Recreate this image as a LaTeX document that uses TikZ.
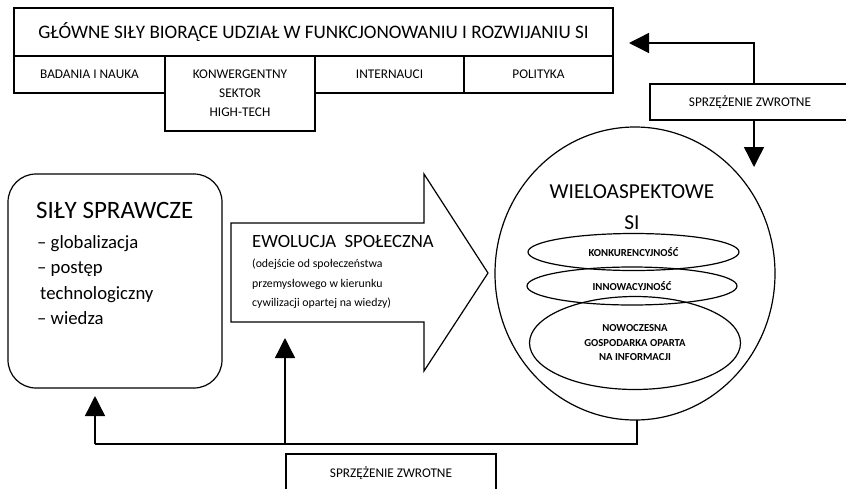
\documentclass[tikz,border=0pt]{standalone}
\usepackage{fontspec}
\setmainfont{Carlito}
\usetikzlibrary{arrows.meta,shapes.geometric,positioning,calc}

\tikzset{
  cell/.style={draw, line width=1.2pt, inner sep=0pt, outer sep=0pt, align=center,
    font=\fontsize{13.3}{19}\selectfont},
  fbbox/.style={draw, line width=1.2pt, inner sep=0pt, outer sep=0pt,
    font=\fontsize{13.3}{16}\selectfont},
  oval/.style={draw, ellipse, line width=1.2pt, inner sep=0pt, align=center,
    font=\fontsize{10.7}{14.5}\selectfont\bfseries},
  txt/.style={inner sep=0pt, align=left},
  fbline/.style={line width=1.4pt, -{Triangle[length=20pt,width=20pt]}}
}

\begin{document}
\begin{tikzpicture}[x=1pt,y=-1pt]
  \clip (0,0) rectangle (846,488);
  \fill[white] (0,0) rectangle (846,488);

  \node[cell, minimum width=599pt, minimum height=48pt, font=\fontsize{19.1}{22}\selectfont] (glowne) at (313.5,32)
    {GŁÓWNE SIŁY BIORĄCE UDZIAŁ W FUNKCJONOWANIU I ROZWIJANIU SI};
  \node[cell, minimum width=151pt, minimum height=37pt, anchor=north west] (badania) at (glowne.south west) {BADANIA I NAUKA};
  \node[cell, minimum width=150pt, minimum height=75pt, anchor=north west] (konw) at (badania.north east) {KONWERGENTNY\\SEKTOR\\HIGH-TECH};
  \node[cell, minimum width=149pt, minimum height=37pt, anchor=north west] (internauci) at (konw.north east) {INTERNAUCI};
  \node[cell, minimum width=149pt, minimum height=37pt, anchor=north west] (polityka) at (internauci.north east) {POLITYKA};

  \node[fbbox, minimum width=200pt, minimum height=36pt] (fbgora) at (750,102) {SPRZĘŻENIE ZWROTNE};
  \node[fbbox, minimum width=210pt, minimum height=38pt] (fbdol) at (391,473) {SPRZĘŻENIE ZWROTNE};

  % sily sprawcze
  \node[draw, rounded corners=28pt, line width=1.2pt, inner sep=0pt, outer sep=0pt,
    minimum width=214pt, minimum height=214pt] (sprawcze) at (115,281) {};
  \node[txt, anchor=west, font=\fontsize{25}{28}\selectfont] (sprawTytul) at (36,210) {SIŁY SPRAWCZE};
  \node[txt, anchor=west, font=\fontsize{18.7}{25.3}\selectfont] (sprawLista) at (37,280)
    {– globalizacja\\– postęp\\\hspace*{3pt}technologiczny\\– wiedza};

  % ewolucja
  \coordinate (ewDol) at (285,322);
  \draw[line width=1.2pt] (231,223) -- (424,223) -- (424,174) -- (488,273) -- (424,371) -- (424,322) -- (231,322) -- cycle;
  \node[txt, anchor=west, font=\fontsize{18.7}{22}\selectfont] (ewTytul) at (252,241) {EWOLUCJA\ \ SPOŁECZNA};
  \node[txt, anchor=west, font=\fontsize{11.8}{19.5}\selectfont] (ewOpis) at (252,284)
    {(odejście od społeczeństwa\\przemysłowego w kierunku\\cywilizacji opartej na wiedzy)};

  % si
  \node[draw, ellipse, line width=1.2pt, inner sep=0pt, outer sep=0pt,
    minimum width=280pt, minimum height=293pt] (si) at (635,273.5) {};
  \node[align=center, inner sep=0pt, font=\fontsize{21.3}{31}\selectfont] (siTytul) at (632,207) {WIELOASPEKTOWE\\SI};
  \node[oval, minimum width=211pt, minimum height=37pt] (konk) at (633.5,252) {KONKURENCYJNOŚĆ};
  \node[oval, minimum width=210pt, minimum height=38pt] (innow) at (632,286) {INNOWACYJNOŚĆ};
  \node[oval, minimum width=211pt, minimum height=93pt] (nowo) at (635,343) {NOWOCZESNA\\GOSPODARKA OPARTA\\NA INFORMACJI};

  % sprzezenie zwrotne
  \coordinate (k1) at (754,43);
  \coordinate (k2) at (754,167);
  \draw[fbline] (fbgora.north -| k1) -- (k1) -- ($(glowne.east |- k1)+(16,0)$);
  \draw[fbline] (fbgora.south -| k1) -- (k2);

  \coordinate (d1) at (637,444);
  \coordinate (d2) at (95,444);
  \coordinate (d3) at (285,444);
  \draw[line width=1.4pt] (si.south -| d1) -- (d1) -- (d2);
  \draw[fbline] (d2) -- ($(sprawcze.south -| d2)+(0,8)$);
  \draw[fbline] (d3) -- ($(ewDol)+(0,16)$);
\end{tikzpicture}
\end{document}
